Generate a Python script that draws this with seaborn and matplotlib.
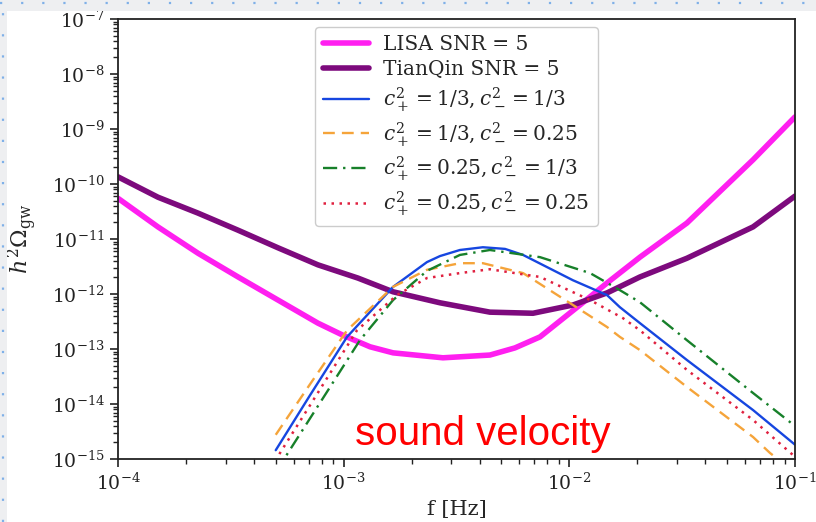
import numpy as np
import pandas as pd
import seaborn as sns
import matplotlib
matplotlib.use("Agg")
import matplotlib.pyplot as plt
from matplotlib.patches import Rectangle
from matplotlib.lines import Line2D

# ---------------- data (log10 units) ----------------
lisa_logf = [-4.000, -3.823, -3.645, -3.468, -3.291, -3.114, -3.003, -2.883, -2.781, -2.560,
             -2.352, -2.241, -2.130, -1.953, -1.833, -1.687, -1.479, -1.186, -1.000]
lisa_logh = [-10.26, -10.78, -11.26, -11.69, -12.11, -12.53, -12.75, -12.96, -13.07, -13.16,
             -13.11, -12.98, -12.78, -12.20, -11.80, -11.33, -10.71, -9.56, -8.78]

tq_logf = [-4.000, -3.823, -3.645, -3.468, -3.291, -3.114, -2.937, -2.781, -2.573,
           -2.352, -2.161, -1.984, -1.833, -1.687, -1.479, -1.186, -1.000]
tq_logh = [-9.87, -10.24, -10.53, -10.84, -11.16, -11.47, -11.71, -11.96, -12.16,
           -12.33, -12.35, -12.20, -11.98, -11.69, -11.35, -10.78, -10.22]

blue_logf = [-3.301, -3.149, -2.985, -2.781, -2.631, -2.573, -2.485, -2.383, -2.285, -2.205,
             -1.984, -1.833, -1.776, -1.687, -1.479, -1.186, -1.000]
blue_logh = [-14.84, -13.84, -12.78, -11.87, -11.42, -11.31, -11.20, -11.15, -11.18, -11.29,
             -11.75, -12.02, -12.24, -12.53, -13.20, -14.11, -14.74]

orange_logf = [-3.301, -3.149, -2.985, -2.781, -2.631, -2.485, -2.383, -2.205, -1.984,
               -1.833, -1.776, -1.687, -1.479, -1.186, -1.111, -1.000]
orange_logh = [-14.56, -13.64, -12.66, -11.87, -11.56, -11.44, -11.44, -11.62, -12.20,
               -12.60, -12.78, -13.02, -13.69, -14.60, -14.89, -15.25]

green_logf = [-3.301, -3.247, -3.074, -2.928, -2.781, -2.631, -2.485, -2.352, -2.130,
              -1.908, -1.776, -1.687, -1.479, -1.186, -1.000]
green_logh = [-15.24, -14.89, -13.78, -12.84, -12.11, -11.58, -11.29, -11.20, -11.33,
              -11.62, -11.93, -12.15, -12.84, -13.80, -14.40]

red_logf = [-3.301, -3.282, -3.118, -2.941, -2.764, -2.631, -2.485, -2.352, -2.130,
            -1.908, -1.762, -1.687, -1.479, -1.186, -1.000]
red_logh = [-15.04, -14.89, -13.82, -12.66, -12.02, -11.71, -11.62, -11.55, -11.69,
            -12.11, -12.44, -12.66, -13.38, -14.29, -14.96]

labels = [
    "LISA SNR = 5",
    "TianQin SNR = 5",
    r"$c_+^2 = 1/3, c_-^2 = 1/3$",
    r"$c_+^2 = 1/3, c_-^2 = 0.25$",
    r"$c_+^2 = 0.25, c_-^2 = 1/3$",
    r"$c_+^2 = 0.25, c_-^2 = 0.25$",
]
series = [(lisa_logf, lisa_logh), (tq_logf, tq_logh), (blue_logf, blue_logh),
          (orange_logf, orange_logh), (green_logf, green_logh), (red_logf, red_logh)]

colors = ["#ff1ff0", "#7d0a7d", "#1646e0", "#f5a43a", "#17802a", "#e0203f"]
styles = ["-", "-", "-", (0, (5, 3)), (0, (6, 2.5, 1, 2.5)), (0, (1, 2.2))]
widths = [4.0, 4.0, 1.7, 1.7, 1.7, 1.8]

frames = []
for lab, (lf, lh) in zip(labels, series):
    frames.append(pd.DataFrame({"f": 10 ** np.array(lf), "h": 10 ** np.array(lh), "series": lab}))
df = pd.concat(frames, ignore_index=True)

# ---------------- style ----------------
sns.set_style("ticks")
plt.rcParams["font.family"] = ["DejaVu Serif"]
plt.rcParams["mathtext.fontset"] = "dejavuserif"

fig = plt.figure(figsize=(8.16, 5.22), dpi=100)
fig.patch.set_facecolor("white")

# slide-like border strips
fig.patches.append(Rectangle((0, 1 - 11 / 522), 1, 11 / 522, transform=fig.transFigure,
                             facecolor="#eeeff1", edgecolor="none", zorder=0))
fig.patches.append(Rectangle((0, 0), 7 / 816, 1, transform=fig.transFigure,
                             facecolor="#eeeff1", edgecolor="none", zorder=0))
fig.lines.append(Line2D([0, 1], [1 - 3 / 522, 1 - 3 / 522], transform=fig.transFigure,
                        color="#7fb0e8", lw=1.6, ls=(0, (1, 8.5))))
fig.lines.append(Line2D([3 / 816, 3 / 816], [0, 1], transform=fig.transFigure,
                        color="#7fb0e8", lw=1.6, ls=(0, (1, 8.5))))

ax = fig.add_axes([118 / 816, 1 - 459 / 522, 677 / 816, 440 / 522])

for lab, c, s, w in zip(labels, colors, styles, widths):
    sub = df[df["series"] == lab]
    sns.lineplot(data=sub, x="f", y="h", ax=ax, color=c, linestyle=s, linewidth=w,
                 label=lab, sort=False, estimator=None)

ax.set_xscale("log")
ax.set_yscale("log")
ax.set_xlim(1e-4, 1e-1)
ax.set_ylim(1e-15, 1e-7)
ax.set_yticks([10.0 ** k for k in range(-15, -6)])
ax.set_xticks([1e-4, 1e-3, 1e-2, 1e-1])

ax.set_xlabel("f [Hz]", fontsize=15, labelpad=5)
ax.set_ylabel(r"$h^2\Omega_{\rm gw}$", fontsize=16, labelpad=9)
ax.tick_params(axis="both", which="major", labelsize=13.5, length=6, width=1.2,
               direction="out", colors="#222222")
ax.tick_params(axis="both", which="minor", length=3.5, width=1.0, direction="out",
               colors="#222222")
for sp in ax.spines.values():
    sp.set_visible(True)
    sp.set_color("#222222")
    sp.set_linewidth(1.3)

leg = ax.legend(loc="upper left", bbox_to_anchor=(0.291, 0.982), borderaxespad=0,
                fontsize=14.5, handlelength=2.3, handletextpad=0.7, labelspacing=0.3,
                frameon=True, fancybox=True, framealpha=1.0, edgecolor="#cccccc")

ax.text(0.350, 0.032, "sound velocity", transform=ax.transAxes, color="red",
        fontsize=29, family=["Liberation Sans", "DejaVu Sans"], va="baseline", ha="left")

fig.savefig("out.png", dpi=100)
